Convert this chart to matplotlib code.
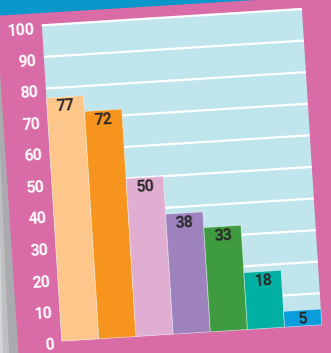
import matplotlib.pyplot as plt
from matplotlib.patches import Rectangle, Polygon
from matplotlib.transforms import Affine2D

# data
values = [77, 72, 50, 38, 33, 18, 5]
bar_colors = ['#FDC68A', '#F7941D', '#E0AED0', '#9E82BD', '#3E9B40', '#00B1A2', '#0B9DDB']
tick_values = [0, 10, 20, 30, 40, 50, 60, 70, 80, 90, 100]

W, H = 331, 353
fig = plt.figure(figsize=(W / 100, H / 100), dpi=100)
fig.patch.set_facecolor('#D96BA7')

# decoration: blue band on top, grey shadow on the left
bg = fig.add_axes([0, 0, 1, 1])
bg.set_xlim(0, W)
bg.set_ylim(H, 0)
bg.axis('off')
bg.add_patch(Polygon([(0, 0), (256, 0), (0, 15.5)], closed=True, color='#0797CA', lw=0))
bg.add_patch(Polygon([(0, 72), (18.5, H), (0, H)], closed=True, color='#A9ABAE', lw=0))
bg.add_patch(Polygon([(0, 150), (9, H), (0, H)], closed=True, color='#BDBFC1', lw=0))
bg.add_patch(Polygon([(0, 230), (3, H), (0, H)], closed=True, color='#D3D4D6', lw=0))

# chart area, drawn straight then tilted
x0, y0 = 61.7, 11.8
ax = fig.add_axes([x0 / W, y0 / H, 260.6 / W, 316.5 / H])
ax.axis('off')
angle = 3.6
rot = ax.transData + Affine2D().rotate_deg_around(x0, y0, angle)

ax.add_patch(Rectangle((-0.5, 0), 7, 100, facecolor='#C1E5EC', lw=0,
                       transform=rot, clip_on=False, zorder=0))
ax.hlines(tick_values[1:], -0.5, 6.5, colors='white', lw=1.6,
          transform=rot, clip_on=False, zorder=1)

x = list(range(len(values)))
ax.bar(x, values, width=1, color=bar_colors, edgecolor=(1, 1, 1, 0.45), lw=0.6,
       transform=rot, clip_on=False, zorder=2)

for i, v in zip(x, values):
    ax.text(i, v - 3.0, str(v), ha='center', va='center', rotation=angle,
            rotation_mode='anchor', transform=rot, color='#2A2828',
            fontsize=11.5, fontweight='bold', family=['Roboto', 'DejaVu Sans'],
            zorder=3)

for v in tick_values:
    ax.text(-0.5 - 0.21, v - 1.1, str(v), ha='right', va='center', rotation=angle,
            rotation_mode='anchor', transform=rot, color='white',
            fontsize=11.5, fontweight='bold',
            family=['Liberation Sans Narrow', 'Roboto', 'DejaVu Sans'])

ax.set_xlim(-0.5, 6.5)
ax.set_ylim(0, 100)

plt.savefig('out.png', dpi=100, facecolor=fig.get_facecolor())
